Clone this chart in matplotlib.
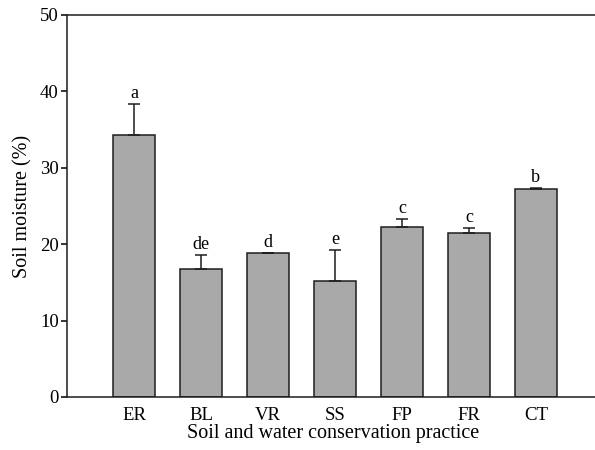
import matplotlib
matplotlib.use("Agg")

import matplotlib.pyplot as plt


# -----------------------------
# DATA
# -----------------------------
practices = ["ER", "BL", "VR", "SS", "FP", "FR", "CT"]
moisture = [34.3, 16.8, 18.9, 15.2, 22.3, 21.5, 27.2]
moisture_err = [4.0, 1.8, 0.0, 4.0, 1.0, 0.6, 0.1]
letters = ["a", "de", "d", "e", "c", "c", "b"]

y_ticks = [0, 10, 20, 30, 40, 50]

BAR_COLOR = "#a9a9a9"
EDGE = "#1e1e1e"

plt.rcParams["font.family"] = ["Liberation Serif", "DejaVu Serif"]

fig = plt.figure(figsize=(5.95, 4.5), dpi=100)
ax = fig.add_axes([0.1126, 0.1178, 0.895, 0.8489])

x = list(range(len(practices)))

ax.bar(
    x,
    moisture,
    width=0.62,
    color=BAR_COLOR,
    edgecolor=EDGE,
    linewidth=1.1,
    zorder=2,
)

ax.errorbar(
    x,
    moisture,
    yerr=[[0] * len(moisture_err), moisture_err],
    fmt="none",
    ecolor=EDGE,
    elinewidth=1.1,
    capsize=4,
    capthick=1.1,
    zorder=3,
)

# significance letters above each error bar
for xi, val, err, lab in zip(x, moisture, moisture_err, letters):
    ax.annotate(
        lab,
        xy=(xi, val + err),
        xytext=(0, 1.5),
        textcoords="offset points",
        ha="center",
        va="bottom",
        fontsize=13,
    )

ax.set_xlim(-1.0, 6.95)
ax.set_ylim(0, 50)
ax.set_yticks(y_ticks)
ax.set_xticks(x)
ax.set_xticklabels(practices)

ax.spines["right"].set_visible(False)
for side in ("left", "top", "bottom"):
    ax.spines[side].set_linewidth(1.1)
    ax.spines[side].set_color(EDGE)

ax.tick_params(axis="y", direction="out", length=4, width=1.1, labelsize=13.5, pad=2)
ax.tick_params(axis="x", length=0, labelsize=13.5, pad=7)

ax.set_xlabel("Soil and water conservation practice", fontsize=14.5, labelpad=0)
ax.set_ylabel("Soil moisture (%)", fontsize=14.5, labelpad=5)

fig.savefig("out.png", dpi=100)
plt.close(fig)
